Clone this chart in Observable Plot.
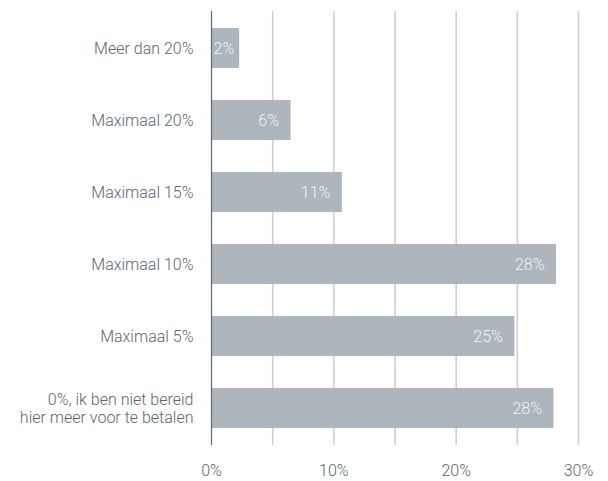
<!DOCTYPE html>
<html><head><meta charset="utf-8">
<script src="https://cdn.jsdelivr.net/npm/d3@7"></script>
<script src="https://cdn.jsdelivr.net/npm/@observablehq/plot@0.6"></script>
<style>
body{margin:0;background:#fff;}
#chart svg{font-family:"Roboto",sans-serif;font-weight:300;}
</style>
</head><body><div id="chart"></div>
<script>
const categories = ["Meer dan 20%", "Maximaal 20%", "Maximaal 15%", "Maximaal 10%", "Maximaal 5%", "0%, ik ben niet bereid\nhier meer voor te betalen"];
const values = [2.3, 6.5, 10.7, 28.2, 24.8, 28.0];
const valueLabels = ["2%", "6%", "11%", "28%", "25%", "28%"];
const gridTicks = [0, 5, 10, 15, 20, 25, 30];
const axisTicks = [0, 10, 20, 30];

const data = categories.map((c, i) => ({cat: c, value: values[i], label: valueLabels[i]}));
const small = data.filter(d => d.value < 4);
const large = data.filter(d => d.value >= 4);

const chart = Plot.plot({
  width: 608,
  height: 481,
  marginLeft: 211,
  marginRight: 30,
  marginTop: 11,
  marginBottom: 36,
  style: {fontSize: "16px", color: "#5b6770", background: "#fff"},
  x: {domain: [0, 30], label: null},
  y: {domain: categories, paddingInner: 0.45, paddingOuter: 0.225, label: null},
  marks: [
    Plot.ruleX(gridTicks.filter(t => t > 0), {stroke: "#c9ced3", strokeWidth: 1.5}),
    Plot.barX(data, {y: "cat", x: "value", fill: "#adb6bc"}),
    Plot.ruleX([0], {stroke: "#5d6b75", strokeWidth: 1.2}),
    Plot.axisX({ticks: axisTicks, tickFormat: d => d + "%", tickSize: 0, tickPadding: 19, label: null, fill: "#5b6770", fontSize: 16}),
    Plot.axisY({tickSize: 0, tickPadding: 18, label: null, lineHeight: 1.08, fill: "#5b6770", fontSize: 16}),
    Plot.text(large, {y: "cat", x: "value", text: "label", textAnchor: "end", dx: -12, fill: "#f2f4f5", fontSize: 16}),
    Plot.text(small, {y: "cat", x: 0, text: "label", textAnchor: "start", dx: 2, fill: "#f2f4f5", fontSize: 16})
  ]
});
document.getElementById("chart").appendChild(chart);
</script>
</body></html>
